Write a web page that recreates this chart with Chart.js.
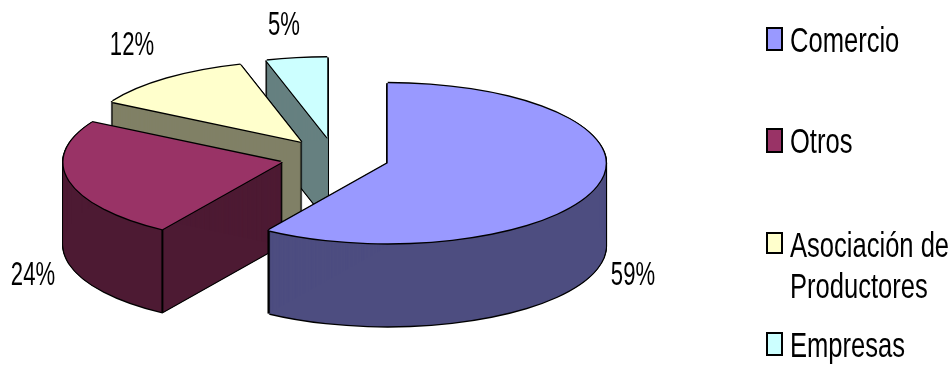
<!DOCTYPE html>
<html>
<head>
<meta charset="utf-8">
<style>html,body{margin:0;padding:0;background:#fff}#w{width:952px;height:367px}</style>
<script src="https://cdn.jsdelivr.net/npm/chart.js@4"></script>
</head>
<body>
<div id="w"><canvas id="c" width="952" height="367"></canvas></div>
<script>
const categories = ['Comercio', 'Otros', 'Asociación de Productores', 'Empresas'];
const shares = [59.2, 24.1, 12.2, 4.5];
const topColors = ['#9999FF', '#993366', '#FFFFCC', '#CCFFFF'];
const wallColors = ['#4D4D80', '#4D1A33', '#808066', '#668080'];

const view = { squash: 0.367, depth: 83, explode: 55, outline: 1.4 };
const labelSpots = [[633, 285], [33, 285], [132, 55], [284, 35]];
const legendRows = [
  { box: [767, 28, 15, 22], lines: [['Comercio', 52]] },
  { box: [767, 129, 15, 23], lines: [['Otros', 153]] },
  { box: [767, 233, 15, 20], lines: [['Asociación de', 257], ['Productores', 298]] },
  { box: [767, 333, 15, 22], lines: [['Empresas', 357]] }
];

function stretchedText(ctx, text, x, y, size, sx, align) {
  ctx.save();
  ctx.font = size + 'px "Liberation Sans", Arial, sans-serif';
  ctx.textAlign = align;
  ctx.textBaseline = 'alphabetic';
  ctx.fillStyle = '#000';
  ctx.translate(x, y);
  ctx.scale(sx, 1);
  ctx.fillText(text, 0, 0);
  ctx.restore();
}

const pie3d = {
  id: 'pie3d',
  beforeDatasetDraw(chart, args) {
    const ctx = chart.ctx;
    const arcs = args.meta.data;
    const cx = arcs[0].x, cy = arcs[0].y;
    const paint = (arc, color, dx, dy) => {
      const mid = (arc.startAngle + arc.endAngle) / 2;
      const saved = arc.options;
      arc.options = Object.assign({}, saved, { backgroundColor: color, borderWidth: 0 });
      ctx.save();
      ctx.translate(cx + dx + view.explode * Math.cos(mid),
                    cy + dy + view.explode * view.squash * Math.sin(mid));
      ctx.scale(1, view.squash);
      ctx.translate(-cx, -cy);
      arc.draw(ctx);
      ctx.restore();
      arc.options = saved;
    };
    for (let i = arcs.length - 1; i >= 0; i--) {
      const arc = arcs[i];
      const o = view.outline;
      for (let d = 0; d <= view.depth; d++) {
        paint(arc, '#000', -o, d);
        paint(arc, '#000', o, d);
      }
      paint(arc, '#000', 0, view.depth + o);
      for (let d = 0; d <= view.depth; d++) paint(arc, wallColors[i], 0, d);
      const mid = (arc.startAngle + arc.endAngle) / 2;
      [arc.startAngle, arc.endAngle].forEach(a => {
        if (Math.sin(a) > 0.05) {
          const x = cx + view.explode * Math.cos(mid) + arc.outerRadius * Math.cos(a);
          const y = cy + view.squash * (view.explode * Math.sin(mid) + arc.outerRadius * Math.sin(a));
          ctx.save();
          ctx.strokeStyle = '#000';
          ctx.lineWidth = 2;
          ctx.beginPath();
          ctx.moveTo(x, y);
          ctx.lineTo(x, y + view.depth);
          ctx.stroke();
          ctx.restore();
        }
      });
      [[-o, 0], [o, 0], [0, -o], [0, o]].forEach(p => paint(arc, '#000', p[0], p[1]));
      paint(arc, topColors[i], 0, 0);
    }
    return false;
  },
  afterDraw(chart) {
    const ctx = chart.ctx;
    shares.forEach((v, i) => {
      stretchedText(ctx, Math.round(v) + '%', labelSpots[i][0], labelSpots[i][1], 33, 0.67, 'center');
    });
    legendRows.forEach((row, i) => {
      const b = row.box;
      ctx.save();
      ctx.fillStyle = topColors[i];
      ctx.strokeStyle = '#000';
      ctx.lineWidth = 2;
      ctx.fillRect(b[0], b[1], b[2], b[3]);
      ctx.strokeRect(b[0], b[1], b[2], b[3]);
      ctx.restore();
      row.lines.forEach(l => stretchedText(ctx, l[0], 790, l[1], 35, 0.73, 'left'));
    });
  }
};

new Chart(document.getElementById('c'), {
  type: 'pie',
  data: {
    labels: categories,
    datasets: [{ data: shares, backgroundColor: topColors, borderWidth: 0, radius: 218, clip: false }]
  },
  options: {
    responsive: false,
    animation: false,
    events: [],
    layout: { padding: { right: 282, bottom: 52 } },
    plugins: { legend: { display: false }, tooltip: { enabled: false } }
  },
  plugins: [pie3d]
});
</script>
</body>
</html>
